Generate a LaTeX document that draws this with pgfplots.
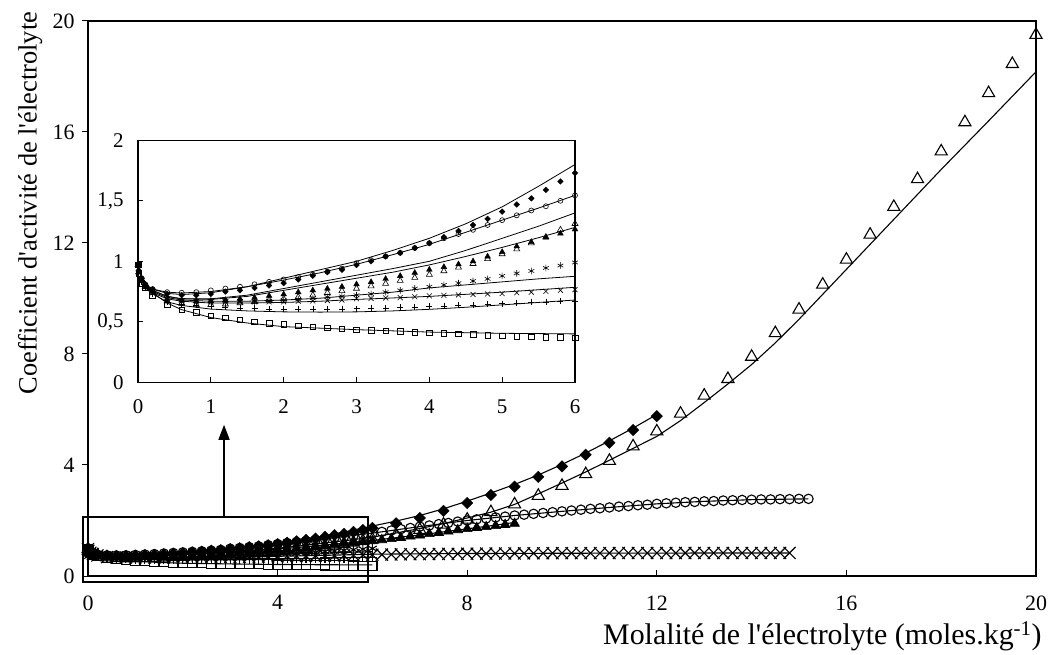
\documentclass[border=0pt]{standalone}
\usepackage{pgfplots}
\pgfplotsset{compat=1.18}
\usepackage{pgfplotstable}
\usepackage{fontspec}
\setmainfont{Liberation Serif}
\usetikzlibrary{arrows.meta}

% filled diamonds
\pgfplotstableread{
x y
0.001 0.97
0.01 0.92
0.05 0.86
0.1 0.81
0.2 0.77
0.4 0.73
0.6 0.72
0.8 0.72
1.0 0.73
1.2 0.75
1.4 0.76
1.6 0.78
1.8 0.80
2.0 0.82
2.2 0.85
2.4 0.88
2.6 0.91
2.8 0.93
3.0 0.97
3.2 1.00
3.4 1.04
3.6 1.07
3.8 1.11
4.0 1.15
4.2 1.20
4.4 1.25
4.6 1.30
4.8 1.35
5.0 1.41
5.2 1.47
5.4 1.52
5.6 1.59
5.8 1.66
6.0 1.73
6.5 1.90
7.0 2.09
7.5 2.35
8.0 2.63
8.5 2.92
9.0 3.22
9.5 3.57
10.0 3.95
10.5 4.37
11.0 4.80
11.5 5.26
12.0 5.76
}\dA
\pgfplotstableread{
x y
0 1.0
0.05 0.86
0.1 0.81
0.2 0.77
0.4 0.735
0.6 0.725
1.0 0.74
1.5 0.79
2.0 0.86
2.5 0.93
3.0 1.00
3.5 1.09
4.0 1.19
4.5 1.31
5.0 1.45
5.5 1.62
6.0 1.80
6.5 1.98
7.0 2.18
7.5 2.42
8.0 2.70
8.5 2.99
9.0 3.30
9.5 3.64
10.0 4.02
10.5 4.43
11.0 4.87
11.5 5.33
12.0 5.82
}\fA
% open circles
\pgfplotstableread{
x y
0.001 0.97
0.01 0.92
0.05 0.86
0.1 0.81
0.2 0.77
0.4 0.745
0.6 0.74
0.8 0.745
1.0 0.76
1.2 0.775
1.4 0.79
1.6 0.81
1.8 0.83
2.0 0.85
2.2 0.87
2.4 0.89
2.6 0.915
2.8 0.94
3.0 0.985
3.2 1.01
3.4 1.04
3.6 1.07
3.8 1.11
4.0 1.15
4.2 1.19
4.4 1.225
4.6 1.26
4.8 1.30
5.0 1.34
5.2 1.38
5.4 1.42
5.6 1.455
5.8 1.50
6.0 1.545
6.2 1.59
6.4 1.64
6.6 1.69
6.8 1.73
7.0 1.78
7.2 1.82
7.4 1.87
7.6 1.91
7.8 1.96
8.0 2.00
8.2 2.04
8.4 2.07
8.6 2.11
8.8 2.14
9.0 2.18
9.2 2.21
9.4 2.24
9.6 2.27
9.8 2.30
10.0 2.33
10.2 2.36
10.4 2.39
10.6 2.42
10.8 2.44
11.0 2.47
11.2 2.50
11.4 2.52
11.6 2.55
11.8 2.57
12.0 2.60
12.2 2.62
12.4 2.64
12.6 2.66
12.8 2.67
13.0 2.69
13.2 2.70
13.4 2.72
13.6 2.73
13.8 2.74
14.0 2.75
14.2 2.76
14.4 2.76
14.6 2.77
14.8 2.77
15.0 2.78
15.2 2.78
}\dB
\pgfplotstableread{
x y
0 1.0
0.05 0.86
0.1 0.81
0.2 0.77
0.4 0.745
0.6 0.738
1.0 0.75
1.5 0.79
2.0 0.845
2.5 0.905
3.0 0.975
3.5 1.055
4.0 1.14
4.5 1.24
5.0 1.34
5.5 1.44
6.0 1.545
7.0 1.78
8.0 2.0
9.0 2.18
10.0 2.33
11.0 2.47
12.0 2.6
13.0 2.69
14.0 2.75
15.2 2.78
}\fB
% open triangles
\pgfplotstableread{
x y
0.001 0.97
0.01 0.91
0.05 0.84
0.1 0.79
0.2 0.74
0.4 0.67
0.6 0.65
0.8 0.64
1.0 0.64
1.2 0.645
1.4 0.655
1.6 0.665
1.8 0.68
2.0 0.69
2.2 0.705
2.4 0.72
2.6 0.74
2.8 0.755
3.0 0.775
3.2 0.795
3.4 0.815
3.6 0.84
3.8 0.865
4.0 0.89
4.2 0.92
4.4 0.95
4.6 0.98
4.8 1.02
5.0 1.06
5.2 1.10
5.4 1.15
5.6 1.20
5.8 1.26
6.0 1.31
6.5 1.48
7.0 1.66
7.5 1.85
8.0 2.03
8.5 2.30
9.0 2.58
9.5 2.89
10.0 3.25
10.5 3.67
11.0 4.15
11.5 4.67
12.0 5.21
12.5 5.85
13.0 6.50
13.5 7.10
14.0 7.90
14.5 8.75
15.0 9.60
15.5 10.50
16.0 11.40
16.5 12.30
17.0 13.30
17.5 14.30
18.0 15.30
18.5 16.35
19.0 17.40
19.5 18.45
20.0 19.50
}\dC
\pgfplotstableread{
x y
0 1.0
0.05 0.86
0.1 0.80
0.2 0.76
0.4 0.71
0.6 0.69
1.0 0.69
1.5 0.72
2.0 0.775
2.5 0.83
3.0 0.885
3.5 0.94
4.0 1.00
4.5 1.09
5.0 1.19
5.5 1.29
6.0 1.40
6.5 1.55
7.0 1.71
7.5 1.89
8.0 2.09
8.5 2.30
9.0 2.58
9.5 2.96
10.0 3.35
10.5 3.75
11.0 4.17
11.5 4.60
12.0 5.03
12.5 5.60
13.0 6.25
13.5 6.92
14.0 7.62
14.5 8.40
15.0 9.25
15.5 10.15
16.0 11.05
17.0 12.85
18.0 14.65
19.0 16.40
20.0 18.17
}\fC
% filled triangles
\pgfplotstableread{
x y
0.001 0.97
0.01 0.91
0.05 0.84
0.1 0.80
0.2 0.75
0.4 0.69
0.6 0.675
0.8 0.67
1.0 0.672
1.2 0.68
1.4 0.69
1.6 0.70
1.8 0.715
2.0 0.727
2.2 0.745
2.4 0.76
2.6 0.774
2.8 0.79
3.0 0.81
3.2 0.829
3.4 0.855
3.6 0.879
3.8 0.905
4.0 0.931
4.2 0.953
4.4 0.975
4.6 1.00
4.8 1.04
5.0 1.077
5.2 1.124
5.4 1.16
5.6 1.196
5.8 1.23
6.0 1.264
6.2 1.30
6.4 1.34
6.6 1.38
6.8 1.43
7.0 1.47
7.2 1.52
7.4 1.56
7.6 1.61
7.8 1.66
8.0 1.70
8.2 1.74
8.4 1.77
8.6 1.81
8.8 1.85
9.0 1.89
}\dD
\pgfplotstableread{
x y
0 1.0
0.05 0.86
0.1 0.80
0.2 0.76
0.4 0.71
0.6 0.69
1.0 0.685
1.5 0.71
2.0 0.76
2.5 0.81
3.0 0.86
3.5 0.91
4.0 0.97
4.5 1.04
5.0 1.115
5.5 1.195
6.0 1.28
6.5 1.38
7.0 1.48
7.5 1.59
8.0 1.70
8.5 1.81
9.0 1.93
}\fD
% asterisks
\pgfplotstableread{
x y
0.001 0.97
0.01 0.91
0.05 0.84
0.1 0.79
0.2 0.75
0.4 0.69
0.6 0.68
0.8 0.675
1.0 0.67
1.2 0.67
1.4 0.67
1.6 0.67
1.8 0.675
2.0 0.68
2.2 0.685
2.4 0.695
2.6 0.705
2.8 0.71
3.0 0.72
3.2 0.73
3.4 0.745
3.6 0.76
3.8 0.775
4.0 0.79
4.2 0.805
4.4 0.82
4.6 0.837
4.8 0.855
5.0 0.879
5.2 0.90
5.4 0.92
5.6 0.945
5.8 0.965
6.0 0.99
}\dE
\pgfplotstableread{
x y
0 1.0
0.05 0.85
0.1 0.79
0.2 0.75
0.4 0.70
0.6 0.68
1.0 0.67
1.5 0.67
2.0 0.68
2.5 0.695
3.0 0.72
3.5 0.745
4.0 0.78
4.5 0.805
5.0 0.83
5.5 0.855
6.0 0.876
}\fE
% crosses
\pgfplotstableread{
x y
0.001 0.97
0.01 0.91
0.05 0.84
0.1 0.79
0.2 0.74
0.4 0.68
0.6 0.67
0.8 0.665
1.0 0.665
1.2 0.665
1.4 0.665
1.6 0.665
1.8 0.665
2.0 0.665
2.2 0.67
2.4 0.672
2.6 0.676
2.8 0.68
3.0 0.69
3.2 0.693
3.4 0.697
3.6 0.70
3.8 0.707
4.0 0.714
4.2 0.718
4.4 0.722
4.6 0.726
4.8 0.73
5.0 0.733
5.2 0.74
5.4 0.745
5.6 0.752
5.8 0.76
6.0 0.766
6.2 0.77
6.4 0.775
6.6 0.78
6.8 0.784
7.0 0.788
7.2 0.79
7.4 0.794
7.6 0.797
7.8 0.80
8.0 0.803
8.2 0.805
8.4 0.807
8.6 0.81
8.8 0.812
9.0 0.814
9.2 0.816
9.4 0.818
9.6 0.82
9.8 0.821
10.0 0.822
10.2 0.823
10.4 0.824
10.6 0.824
10.8 0.825
11.0 0.825
11.2 0.826
11.4 0.826
11.6 0.827
11.8 0.827
12.0 0.828
12.2 0.828
12.4 0.828
12.6 0.829
12.8 0.829
13.0 0.829
13.2 0.83
13.4 0.83
13.6 0.83
13.8 0.83
14.0 0.83
14.2 0.83
14.4 0.83
14.6 0.83
14.8 0.83
}\dF
\pgfplotstableread{
x y
0 1.0
0.05 0.85
0.1 0.79
0.2 0.74
0.4 0.69
0.6 0.67
1.0 0.655
1.5 0.655
2.0 0.66
2.5 0.67
3.0 0.685
3.5 0.697
4.0 0.71
4.5 0.727
5.0 0.745
5.5 0.765
6.0 0.785
7.0 0.80
8.0 0.81
10.0 0.82
12.0 0.826
14.8 0.83
}\fF
% plus
\pgfplotstableread{
x y
0.001 0.97
0.01 0.90
0.05 0.83
0.1 0.78
0.2 0.73
0.4 0.66
0.6 0.645
0.8 0.635
1.0 0.628
1.2 0.62
1.4 0.615
1.6 0.61
1.8 0.605
2.0 0.603
2.2 0.603
2.4 0.604
2.6 0.605
2.8 0.607
3.0 0.609
3.2 0.612
3.4 0.615
3.6 0.619
3.8 0.623
4.0 0.628
4.2 0.632
4.4 0.636
4.6 0.64
4.8 0.645
5.0 0.65
5.2 0.655
5.4 0.66
5.6 0.664
5.8 0.668
6.0 0.672
}\dG
\pgfplotstableread{
x y
0 1.0
0.05 0.84
0.1 0.78
0.2 0.73
0.4 0.665
0.6 0.635
1.0 0.605
1.5 0.59
2.0 0.582
2.5 0.58
3.0 0.582
3.5 0.59
4.0 0.603
4.5 0.62
5.0 0.64
5.5 0.66
6.0 0.68
}\fG
% open squares
\pgfplotstableread{
x y
0.001 0.97
0.01 0.90
0.05 0.82
0.1 0.78
0.2 0.72
0.4 0.642
0.6 0.60
0.8 0.579
1.0 0.551
1.2 0.532
1.4 0.515
1.6 0.50
1.8 0.488
2.0 0.479
2.2 0.468
2.4 0.457
2.6 0.45
2.8 0.442
3.0 0.435
3.2 0.43
3.4 0.425
3.6 0.42
3.8 0.415
4.0 0.41
4.2 0.405
4.4 0.40
4.6 0.395
4.8 0.39
5.0 0.383
5.2 0.38
5.4 0.377
5.6 0.374
5.8 0.371
6.0 0.369
}\dH
\pgfplotstableread{
x y
0 1.0
0.05 0.84
0.1 0.79
0.2 0.74
0.4 0.655
0.6 0.60
1.0 0.535
1.5 0.49
2.0 0.46
3.0 0.435
4.0 0.415
5.0 0.405
6.0 0.40
}\fH

\pgfplotsset{
  fitmain/.style={black, line width=1.1bp, no marks},
  fitin/.style={black, line width=0.8bp, no marks},
}

\begin{document}
\begin{tikzpicture}
\useasboundingbox (0bp,0bp) rectangle (1050bp,655bp);
\begin{axis}[
  at={(88bp,79bp)}, anchor=south west,
  scale only axis, width=948bp, height=555bp,
  xmin=0, xmax=20, ymin=0, ymax=20,
  xtick={0,4,...,20}, ytick={0,4,...,20},
  xtick pos=bottom, ytick pos=left,
  xtick align=inside, ytick align=outside,
  major tick length=6bp,
  tick style={line width=1bp, black},
  axis line style={line width=1.3bp},
  /pgf/number format/assume math mode=true,
  ticklabel style={font=\fontsize{22}{25}\selectfont},
  xticklabel style={yshift=-16bp},
  yticklabel style={xshift=-4bp},
  xlabel={Molalité de l\textquotesingle électrolyte (moles.kg\textsuperscript{-1})},
  ylabel={Coefficient d\textquotesingle activité de l\textquotesingle électrolyte},
  xlabel style={font=\fontsize{30}{34}\selectfont, anchor=base east, at={(axis description cs:1.0095,-0.124)}},
  ylabel style={font=\fontsize{26.5}{30}\selectfont, anchor=center, at={(axis description cs:-0.061,0.672)}},
  clip=false,
]
\addplot[fitmain] table {\fA};
\addplot[fitmain] table {\fB};
\addplot[fitmain] table {\fC};
\addplot[fitmain] table {\fD};
\addplot[fitmain] table {\fE};
\addplot[fitmain] table {\fF};
\addplot[fitmain] table {\fG};
\addplot[fitmain] table {\fH};
\addplot[only marks, mark=square, mark size=4.6bp, mark options={line width=1.1bp, black}] table {\dH};
\addplot[only marks, mark=+, mark size=5bp, mark options={line width=1.1bp, black}] table {\dG};
\addplot[only marks, mark=x, mark size=8.5bp, mark options={line width=1.1bp, black}] table {\dF};
\addplot[only marks, mark=asterisk, mark size=5bp, mark options={line width=1.1bp, black}] table {\dE};
\addplot[only marks, mark=o, mark size=4.7bp, mark options={line width=1.1bp, black}] table {\dB};
\addplot[only marks, mark=triangle, mark size=7bp, mark options={line width=1.1bp, black}] table {\dC};
\addplot[only marks, mark=triangle*, mark size=5.6bp, mark options={line width=0.6bp, black, fill=black}] table {\dD};
\addplot[only marks, mark=square*, mark size=4bp, mark options={rotate=45, line width=0.5bp, black, fill=black}] table {\dA};
\draw[line width=1.8bp] (axis cs:-0.105,-0.217) rectangle (axis cs:5.907,2.13);
\draw[line width=1.5bp, -{Triangle[width=11bp,length=15bp]}] (axis cs:2.87,2.13) -- (axis cs:2.87,5.45);
\end{axis}

\begin{axis}[
  at={(138bp,272.7bp)}, anchor=south west,
  scale only axis, width=437bp, height=242bp,
  xmin=0, xmax=6, ymin=0, ymax=2,
  xtick={0,1,...,6}, ytick={0,0.5,1,1.5,2},
  xtick pos=bottom, ytick pos=left,
  tick align=inside,
  major tick length=5bp,
  tick style={line width=0.8bp, black},
  axis line style={line width=1.2bp},
  axis background/.style={fill=white},
  /pgf/number format/assume math mode=true,
  /pgf/number format/use comma,
  ticklabel style={font=\fontsize{21}{24}\selectfont},
  xticklabel style={yshift=-14bp},
  yticklabel style={xshift=-11bp},
  restrict x to domain=0:6.05,
]
\addplot[fitin] table {\fA};
\addplot[fitin] table {\fB};
\addplot[fitin] table {\fC};
\addplot[fitin] table {\fD};
\addplot[fitin] table {\fE};
\addplot[fitin] table {\fF};
\addplot[fitin] table {\fG};
\addplot[fitin] table {\fH};
\addplot[only marks, mark=square, mark size=2.8bp, mark options={line width=0.6bp, black}] table {\dH};
\addplot[only marks, mark=+, mark size=3bp, mark options={line width=0.6bp, black}] table {\dG};
\addplot[only marks, mark=x, mark size=3.5bp, mark options={line width=0.6bp, black}] table {\dF};
\addplot[only marks, mark=asterisk, mark size=3.3bp, mark options={line width=0.6bp, black}] table {\dE};
\addplot[only marks, mark=o, mark size=2.5bp, mark options={line width=0.6bp, black}] table {\dB};
\addplot[only marks, mark=triangle, mark size=3.5bp, mark options={line width=0.6bp, black}] table {\dC};
\addplot[only marks, mark=triangle*, mark size=3.3bp, mark options={line width=0.4bp, black, fill=black}] table {\dD};
\addplot[only marks, mark=square*, mark size=2bp, mark options={rotate=45, line width=0.4bp, black, fill=black}] table {\dA};
\end{axis}
\end{tikzpicture}
\end{document}
